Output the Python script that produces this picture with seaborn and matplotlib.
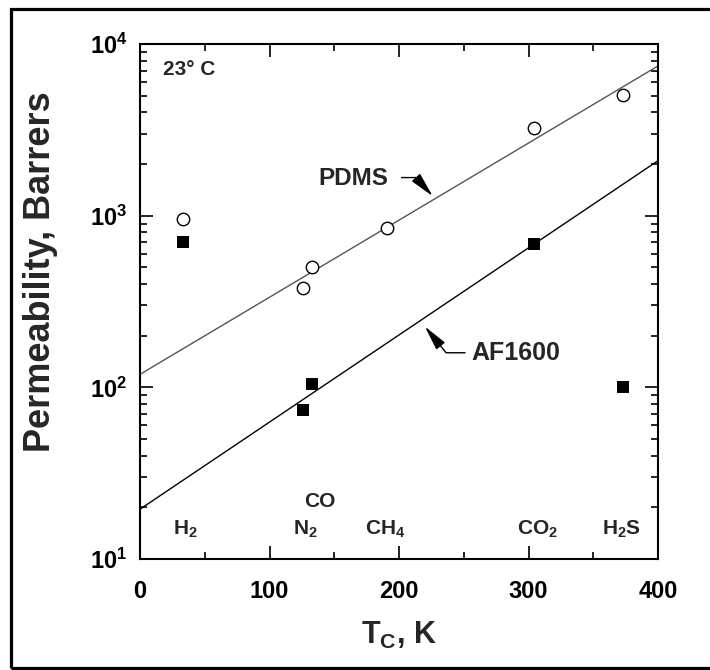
import numpy as np
import pandas as pd
import seaborn as sns
import matplotlib.pyplot as plt
from matplotlib.patches import Rectangle
from matplotlib.ticker import MultipleLocator, LogLocator, NullFormatter

sns.set_style('ticks')
plt.rcParams['font.family'] = ['Liberation Sans', 'DejaVu Sans']
plt.rcParams['font.weight'] = 'bold'
plt.rcParams['mathtext.fontset'] = 'custom'
plt.rcParams['mathtext.rm'] = 'Liberation Sans:bold'
plt.rcParams['mathtext.bf'] = 'Liberation Sans:bold'
plt.rcParams['mathtext.it'] = 'Liberation Sans:bold'
plt.rcParams['mathtext.default'] = 'bf'

# critical temperature (K) and permeability (Barrers) at 23 C
gases = ['H$_2$', 'N$_2$', 'CO', 'CH$_4$', 'CO$_2$', 'H$_2$S']
tc = [33.5, 126, 133, 191, 304, 373]
pdms = [950, 380, 500, 850, 3230, 5050]
af1600 = [700, 74, 105, np.nan, 680, 100]

# correlation lines
fit_tc = [0, 400]
pdms_fit = [119, 7450]
af1600_fit = [19.5, 2090]

# where the gas names sit
label_x = [34.7, 127.4, 139, 189, 306.6, 372]
label_y = [14.8, 14.8, 21.5, 14.8, 14.8, 14.8]

df = pd.DataFrame({'tc': tc, 'PDMS': pdms, 'AF1600': af1600})
fits = pd.DataFrame({'tc': fit_tc, 'PDMS': pdms_fit, 'AF1600': af1600_fit})

fig = plt.figure(figsize=(7.1, 6.7), dpi=100)
ax = fig.add_axes([140/710, 1-559/670, 518/710, 515/670])

sns.lineplot(data=fits, x='tc', y='PDMS', color='#555555', lw=1, ax=ax)
sns.lineplot(data=fits, x='tc', y='AF1600', color='black', lw=1, ax=ax)
sns.scatterplot(data=df, x='tc', y='PDMS', marker='o', s=80, facecolor='white',
                edgecolor='black', linewidth=1, ax=ax, zorder=3)
sns.scatterplot(data=df, x='tc', y='AF1600', marker='s', s=85, color='black',
                edgecolor='black', linewidth=0, ax=ax, zorder=3)

ax.set_yscale('log')
ax.set_xlim(0, 400)
ax.set_ylim(10, 1e4)
ax.xaxis.set_major_locator(MultipleLocator(100))
ax.xaxis.set_minor_locator(MultipleLocator(50))
ax.yaxis.set_minor_locator(LogLocator(base=10, subs=np.arange(2, 10)))
ax.yaxis.set_minor_formatter(NullFormatter())
ax.tick_params(which='both', direction='in', top=True, right=True, width=1.2,
               labelsize=17, colors='black')
ax.tick_params(which='major', length=9.5, pad=9)
ax.tick_params(which='minor', length=5)
ax.tick_params(axis='x', pad=15)
for sp in ax.spines.values():
    sp.set_linewidth(1.5)
    sp.set_color('black')
    sp.set_visible(True)
for lab in ax.get_xticklabels() + ax.get_yticklabels():
    lab.set_fontweight('bold')

ax.set_xlabel('T$_C$, K', fontsize=22, fontweight='bold', labelpad=12)
ax.set_ylabel('Permeability, Barrers', fontsize=26, fontweight='bold', labelpad=23)
ax.yaxis.label.set_y(0.557)

for g, x, y in zip(gases, label_x, label_y):
    ax.text(x, y, g, ha='center', va='center', fontsize=15, fontweight='bold')

ax.text(17.8, 7100, '23° C', ha='left', va='center', fontsize=15, fontweight='bold')

ax.text(164.5, 1650, 'PDMS', ha='center', va='center', fontsize=17.5, fontweight='bold')
ax.annotate('', xy=(226, 1300), xytext=(202, 1667),
            arrowprops=dict(arrowstyle='-|>,head_length=0.9,head_width=0.2', color='black',
                            lw=1, shrinkA=0, shrinkB=0, mutation_scale=17,
                            connectionstyle='angle,angleA=0,angleB=-48,rad=0'))

ax.text(290, 159, 'AF1600', ha='center', va='center', fontsize=18, fontweight='bold')
ax.annotate('', xy=(220, 226), xytext=(251, 159),
            arrowprops=dict(arrowstyle='-|>,head_length=0.9,head_width=0.2', color='black',
                            lw=1, shrinkA=0, shrinkB=0, mutation_scale=17,
                            connectionstyle='angle,angleA=0,angleB=129,rad=0'))

fig.add_artist(Rectangle((10.5/710, 1-668/670), 1.05, (668-8.5)/670, transform=fig.transFigure,
                         fill=False, edgecolor='black', lw=2.3, clip_on=False))

fig.savefig('out.png', dpi=100)
